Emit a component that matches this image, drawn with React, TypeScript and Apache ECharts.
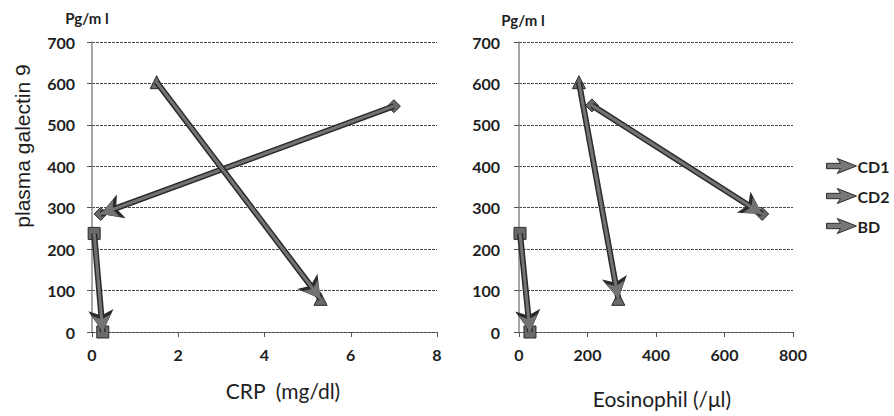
import React, { useEffect, useRef } from "react";
import * as echarts from "echarts";

// Series names and their marker shapes
const seriesNames = ["CD1", "CD2", "BD"];
const markerShapes = ["diamond", "rect", "triangle"];
const markerSizes = [13, 12, 13];

// CRP (mg/dl) vs plasma galectin 9 (pg/ml): [start, end] of each arrow
const crpCD1 = [[7.0, 545], [0.2, 285]];
const crpCD2 = [[0.05, 238], [0.25, 0]];
const crpBD = [[1.5, 603], [5.3, 80]];

// Eosinophil (/μl) vs plasma galectin 9 (pg/ml)
const eosCD1 = [[213, 547], [710, 285]];
const eosCD2 = [[3, 238], [32, 0]];
const eosBD = [[175, 603], [290, 80]];

// Axis ranges / tick steps
const yTicks = { min: 0, max: 700, interval: 100 };
const crpTicks = { min: 0, max: 8, interval: 2 };
const eosTicks = { min: 0, max: 800, interval: 200 };

const FONT = "Lato, 'Open Sans', sans-serif";
const SHAFT = "#737373";
const EDGE = "#2b2b2b";

function arrowSeries(gridIndex: number, sets: number[][][]) {
  const out: any[] = [];
  sets.forEach((pts, i) => {
    const [a, b] = pts;
    // dark outline layer underneath
    out.push({
      name: seriesNames[i] + "-edge",
      type: "line",
      xAxisIndex: gridIndex,
      yAxisIndex: gridIndex,
      data: pts,
      symbol: "none",
      lineStyle: { width: 0, opacity: 0 },
      z: 2,
      markLine: {
        silent: true,
        symbol: ["none", "arrow"],
        symbolSize: [19, 22],
        label: { show: false },
        lineStyle: { color: EDGE, width: 6, type: "solid" },
        data: [[{ coord: a }, { coord: b }]],
      },
    });
    // gray shaft, arrowhead and markers on top
    out.push({
      name: seriesNames[i],
      type: "line",
      xAxisIndex: gridIndex,
      yAxisIndex: gridIndex,
      data: pts,
      symbol: markerShapes[i],
      symbolSize: markerSizes[i],
      showSymbol: true,
      itemStyle: { color: "#6a6a6a", borderColor: EDGE, borderWidth: 1 },
      lineStyle: { width: 0, opacity: 0 },
      z: 3,
      markLine: {
        silent: true,
        symbol: ["none", "arrow"],
        symbolSize: [14, 17],
        label: { show: false },
        lineStyle: { color: SHAFT, width: 3, type: "solid" },
        data: [[{ coord: a }, { coord: b }]],
      },
    });
  });
  return out;
}

function valueYAxis(gridIndex: number, margin: number) {
  return {
    type: "value",
    gridIndex,
    ...yTicks,
    axisLine: { show: true, lineStyle: { color: "#8a8a8a", width: 1.5 } },
    axisTick: { show: true, length: 5, lineStyle: { color: "#555" } },
    axisLabel: {
      margin,
      color: "#1e1e1e",
      fontFamily: FONT,
      fontWeight: "bold",
      fontSize: 16,
    },
    splitLine: { show: true, lineStyle: { color: "#4a4a4a", width: 1, type: [3, 1] } },
  };
}

function valueXAxis(gridIndex: number, ticks: any) {
  return {
    type: "value",
    gridIndex,
    ...ticks,
    axisLine: { show: true, onZero: false, lineStyle: { color: "#4a4a4a", width: 1, type: [3, 1] } },
    axisTick: { show: true, length: 5, lineStyle: { color: "#555" } },
    axisLabel: {
      margin: 14,
      color: "#1e1e1e",
      fontFamily: FONT,
      fontWeight: "bold",
      fontSize: 16,
    },
    splitLine: { show: false },
  };
}

const textStyle = (text: string, size: number, weight: string, family = FONT) => ({
  text,
  fill: "#1e1e1e",
  font: `${weight} ${size}px ${family}`,
  textAlign: "center",
  textVerticalAlign: "middle",
});

export default function App() {
  const ref = useRef<HTMLDivElement>(null);

  useEffect(() => {
    if (!ref.current) return;
    const chart = echarts.init(ref.current, null, { renderer: "svg" });
    chart.setOption({
      animation: false,
      backgroundColor: "#ffffff",
      grid: [
        { left: 92, top: 42, width: 345, height: 290 },
        { left: 519, top: 42, width: 274, height: 290 },
      ],
      xAxis: [valueXAxis(0, crpTicks), valueXAxis(1, eosTicks)],
      yAxis: [valueYAxis(0, 17), valueYAxis(1, 19)],
      legend: {
        data: seriesNames,
        orient: "vertical",
        left: 826,
        top: 158,
        padding: 0,
        itemWidth: 30,
        itemHeight: 15,
        itemGap: 14,
        icon: "path://M0,4.5 L13,4.5 L10,0 L28,7 L10,14 L13,9.5 L0,9.5 Z",
        itemStyle: { color: "#777777", borderColor: EDGE, borderWidth: 1 },
        textStyle: { color: "#1e1e1e", fontFamily: FONT, fontWeight: "bold", fontSize: 16, padding: [0, 0, 0, -4] },
      },
      graphic: [
        { type: "text", x: 22, y: 146, rotation: Math.PI / 2, style: textStyle("plasma galectin 9", 21, "normal", "'Liberation Sans', Arial, sans-serif") },
        { type: "text", x: 87, y: 18, style: textStyle("Pg/m l", 15, "bold") },
        { type: "text", x: 523, y: 20, style: textStyle("Pg/m l", 15, "bold") },
        { type: "text", x: 283, y: 390, style: textStyle("CRP  (mg/dl)", 21, "normal") },
        { type: "text", x: 662, y: 398, style: textStyle("Eosinophil (/μl)", 21, "normal") },
      ],
      series: [
        ...arrowSeries(0, [crpCD1, crpCD2, crpBD]),
        ...arrowSeries(1, [eosCD1, eosCD2, eosBD]),
      ],
    });
    return () => chart.dispose();
  }, []);

  return (
    <div
      ref={ref}
      style={{ position: "fixed", left: 0, top: 0, width: 894, height: 416, background: "#fff" }}
    />
  );
}
